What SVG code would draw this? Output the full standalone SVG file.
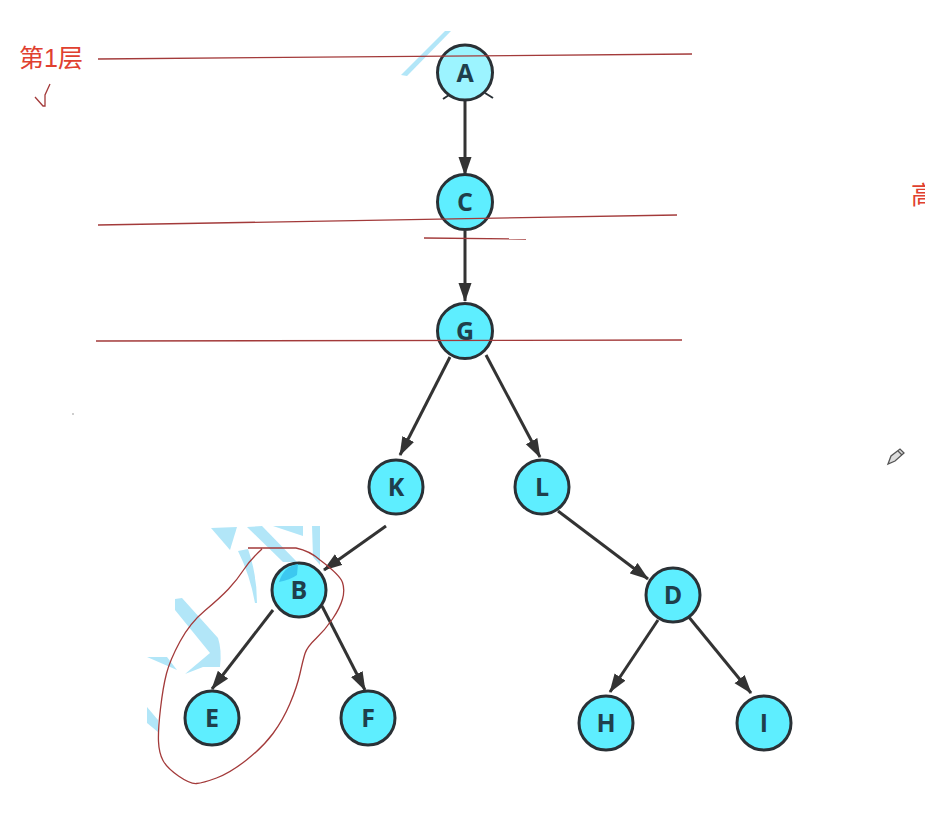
<svg xmlns="http://www.w3.org/2000/svg" width="925" height="813" viewBox="0 0 925 813">
<style>
.n{fill:#5eeeff;stroke:#2a3136;stroke-width:3}
.t{font-family:"Open Sans","Liberation Sans",sans-serif;font-weight:700;font-size:25px;fill:#1f3f4c;text-anchor:middle}
.e{fill:none;stroke:#333;stroke-width:3;marker-end:url(#arrow)}
.r{fill:none;stroke:#a33a3a;stroke-width:1.300}
.b{fill:#b2e6f8;stroke:none}
.c{font-family:"Liberation Sans","Noto Sans CJK SC",sans-serif;font-size:25px;fill:#e0402f}
</style>
<defs>
<marker id="arrow" markerUnits="userSpaceOnUse" markerWidth="20" markerHeight="14" refX="18" refY="7" orient="auto">
<path d="M0 0.500L19 7L0 13.500Z" fill="#333"/>
</marker>
</defs>
<rect width="925" height="813" fill="#fff"/>
<g id="highlights">
<path class="b" d="M445 31L451 31L407 76L401 75Z"/>
<path class="b" d="M211 528L237 527L230 550Z"/>
<path class="b" d="M238 551L248 549Q257 575 257 603L255 603Q250 575 238 551Z"/>
<path class="b" d="M247 527L262 526L297 562L283 562Z"/>
<path class="b" d="M273 526L303 526L303 536Z"/>
<path class="b" d="M312 526L320 526L320 565L313 557Z"/>
<path class="b" d="M175 599L182 598L218 638Q222 650 220 667L203 667L185 674L210 653L175 610Z"/>
<path class="b" d="M147 657L167 657L177 670Z"/>
<path class="b" d="M147 707L158 720L158 732L147 723Z"/>
</g>
<g id="connectors">
<path class="e" d="M465 101L465 175"/>
<path class="e" d="M465 231L465 301"/>
<path class="e" d="M450 357L400 455"/>
<path class="e" d="M486 355L540 457"/>
<path class="e" d="M386 526L324 570"/>
<path class="e" d="M558 511L648 579"/>
<path class="e" d="M273 610L212 689"/>
<path class="e" d="M322 606L365 690"/>
<path class="e" d="M658 620L610 692"/>
<path class="e" d="M688 616L751 693"/>
<path d="M443 99L449 95M485 93L493 98" fill="none" stroke="#2a3136" stroke-width="2"/>
</g>
<g id="node-A"><circle class="n" cx="465" cy="72.500" r="27.500" style="fill:#9cf4ff"/><text class="t" x="465" y="82">A</text></g>
<g id="node-C"><circle class="n" cx="465" cy="202" r="27.500"/><text class="t" x="465" y="211">C</text></g>
<g id="node-G"><circle class="n" cx="465" cy="331" r="27.500"/><text class="t" x="465" y="340">G</text></g>
<g id="node-K"><circle class="n" cx="396" cy="487" r="27"/><text class="t" x="396" y="496">K</text></g>
<g id="node-L"><circle class="n" cx="542" cy="487" r="27"/><text class="t" x="542" y="496">L</text></g>
<g id="node-B"><circle class="n" cx="299" cy="590" r="27"/><path d="M279 582Q284 566 298 564L297 575Q290 580 279 582Z" fill="#3cc8f0"/><text class="t" x="299" y="599">B</text></g>
<g id="node-D"><circle class="n" cx="673" cy="595" r="27"/><text class="t" x="673" y="604">D</text></g>
<g id="node-E"><circle class="n" cx="212" cy="718" r="27"/><text class="t" x="212" y="727">E</text></g>
<g id="node-F"><circle class="n" cx="368" cy="718" r="27"/><text class="t" x="368" y="727">F</text></g>
<g id="node-H"><circle class="n" cx="606" cy="723" r="27"/><text class="t" x="606" y="732">H</text></g>
<g id="node-I"><circle class="n" cx="764" cy="723" r="27"/><text class="t" x="764" y="732">I</text></g>
<g id="annotations">
<path class="r" d="M98 59L692 54"/>
<path class="r" d="M98 225L677 215"/>
<path class="r" d="M424 238L526 239"/>
<path class="r" d="M96 341L682 340"/>
<path class="r" d="M248 548L296 548Q310 551 320 560Q340 575 342.500 582.500Q345 590 342.500 599Q340 608 332.500 619Q325 630 316 638.500Q307 647 305 653.500Q303 660 300 673.500Q297 687 290 703.500Q283 720 273 733.500Q263 747 246.500 760Q230 773 216.500 778Q203 783 196.500 783.500Q190 784 178.500 776Q167 768 163 760.500Q159 753 158.500 741.500Q158 730 160.500 708.500Q163 687 166.500 673.500Q170 660 180 641.500Q190 623 205 610.500Q220 598 228.500 589Q237 580 243.500 570Q250 560 262 549"/>
<path class="r" d="M35 97L43 106L45 106L45 95L50 84"/>
<circle cx="73" cy="414" r="0.700" fill="#777"/>
<text class="c" x="19" y="67">第1层</text>
<text class="c" x="911" y="204">高</text>
<g fill="none" stroke="#555" stroke-width="1.300"><path d="M888 464L891 456L900 449L904 453L895 461Z" fill="#ddd"/><path d="M898 451L902 455"/></g>
</g>
</svg>
